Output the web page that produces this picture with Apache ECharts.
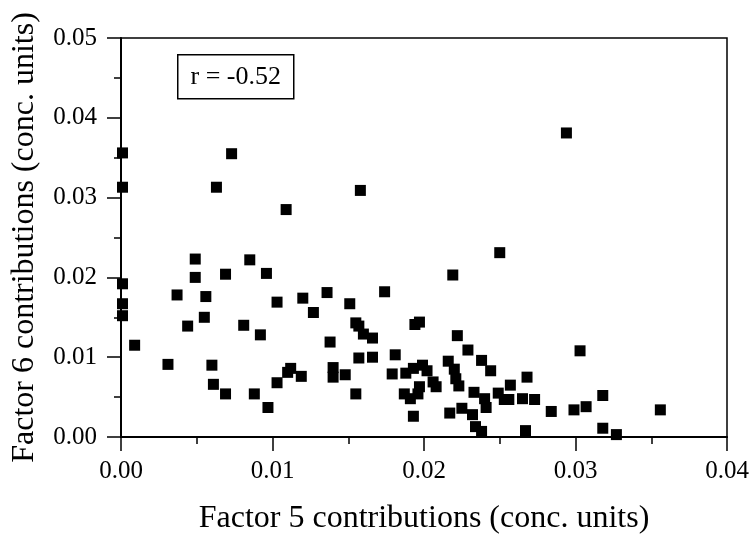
<!DOCTYPE html>
<html>
<head>
<meta charset="utf-8">
<script src="https://cdn.jsdelivr.net/npm/echarts@6/dist/echarts.min.js"></script>
<style>html,body{margin:0;padding:0;background:#fff;}#c{width:753px;height:534px;}</style>
</head>
<body>
<div id="c"></div>
<script>
const xTitle = 'Factor 5 contributions (conc. units)';
const yTitle = 'Factor 6 contributions (conc. units)';
const annotation = 'r = -0.52';
const xTicks = [0, 0.01, 0.02, 0.03, 0.04];
const yTicks = [0, 0.01, 0.02, 0.03, 0.04, 0.05];

const factor5 = [
  0.0001,0.0001,0.0001,0.0001,0.0001,
  0.0073,0.0063,0.0109,0.0049,0.0085,0.0049,0.0069,0.0096,
  0.0037,0.0056,0.0103,0.0055,0.0044,0.0081,0.0092,0.0009,0.0031,0.0060,0.0061,0.0069,0.0088,0.0097,0.0103,0.0110,0.0112,
  0.0158,0.0219,
  0.0120,0.0136,0.0174,0.0127,0.0151,0.0155,0.0157,0.0160,0.0166,0.0197,0.0194,0.0138,0.0157,0.0166,0.0181,0.0222,0.0229,
  0.0119,0.0140,0.0140,0.0148,0.0155,0.0179,0.0188,0.0193,0.0199,0.0202,0.0206,0.0208,0.0187,0.0191,0.0197,0.0196,
  0.0193,0.0216,0.0220,0.0221,0.0223,0.0233,0.0217,0.0225,0.0232,0.0234,
  0.0294,0.0250,
  0.0238,0.0244,0.0303,0.0268,0.0257,0.0249,0.0253,0.0256,0.0265,0.0273,0.0240,0.0241,0.0238,0.0267,0.0284,0.0299,0.0307,0.0318,0.0318,0.0327,0.0356
];
const factor6 = [
  0.0356,0.0313,0.0192,0.0167,0.0152,
  0.0355,0.0313,0.0285,0.0223,0.0222,0.0200,0.0204,0.0205,
  0.0178,0.0176,0.0169,0.0150,0.0139,0.0140,0.0128,0.0115,0.0091,0.0090,0.0066,0.0054,0.0054,0.0037,0.0068,0.0081,0.0086,
  0.0309,0.0203,
  0.0174,0.0181,0.0182,0.0156,0.0167,0.0143,0.0139,0.0129,0.0124,0.0144,0.0141,0.0119,0.0099,0.0100,0.0103,0.0127,0.0109,
  0.0076,0.0087,0.0075,0.0078,0.0054,0.0079,0.0080,0.0086,0.0090,0.0083,0.0069,0.0063,0.0054,0.0048,0.0063,0.0054,
  0.0026,0.0095,0.0085,0.0073,0.0064,0.0056,0.0030,0.0036,0.0028,0.0013,
  0.0381,0.0231,
  0.0096,0.0083,0.0108,0.0075,0.0065,0.0055,0.0047,0.0047,0.0048,0.0047,0.0048,0.0037,0.0007,0.0008,0.0032,0.0034,0.0038,0.0052,0.0011,0.0003,0.0034
];

const points = factor5.map((v, i) => [v, factor6[i]]);
const font = '"Liberation Serif", "Times New Roman", serif';

const chart = echarts.init(document.getElementById('c'), null, {renderer: 'canvas'});
chart.setOption({
  animation: false,
  backgroundColor: '#fff',
  grid: {left: 121, right: 26, top: 38, bottom: 97, containLabel: false, outerBoundsMode: 'none', show: true, borderColor: '#000', borderWidth: 1.5, backgroundColor: 'transparent'},
  xAxis: {
    type: 'value', min: xTicks[0], max: xTicks[xTicks.length - 1], interval: 0.01,
    name: xTitle, nameLocation: 'middle', nameGap: 66,
    nameTextStyle: {fontFamily: font, fontSize: 32, color: '#000'},
    axisLine: {show: true, lineStyle: {color: '#000', width: 2}},
    axisTick: {show: true, length: 14, lineStyle: {color: '#000', width: 1.5}},
    minorTick: {show: true, splitNumber: 2, length: 7, lineStyle: {color: '#000', width: 1.5}},
    splitLine: {show: false},
    axisLabel: {fontFamily: font, fontSize: 25, color: '#000', margin: 22, formatter: v => v.toFixed(2)}
  },
  yAxis: {
    type: 'value', min: yTicks[0], max: yTicks[yTicks.length - 1], interval: 0.01,
    name: yTitle, nameLocation: 'middle', nameGap: 80,
    nameTextStyle: {fontFamily: font, fontSize: 32, color: '#000'},
    axisLine: {show: true, lineStyle: {color: '#000', width: 2}},
    axisTick: {show: true, length: 14, lineStyle: {color: '#000', width: 1.5}},
    minorTick: {show: true, splitNumber: 2, length: 7, lineStyle: {color: '#000', width: 1.5}},
    splitLine: {show: false},
    axisLabel: {fontFamily: font, fontSize: 25, color: '#000', margin: 24, formatter: v => v.toFixed(2)}
  },
  series: [{
    type: 'scatter',
    data: points,
    symbol: 'rect',
    symbolSize: 11,
    itemStyle: {color: '#000', opacity: 1}
  }],
  graphic: [{
    type: 'group', left: 177, top: 54,
    children: [
      {type: 'rect', shape: {x: 0, y: 0, width: 116, height: 44}, style: {fill: '#fff', stroke: '#000', lineWidth: 1.5}},
      {type: 'text', x: 58, y: 22, style: {text: annotation, font: '26px ' + font, fill: '#000', align: 'center', verticalAlign: 'middle'}}
    ]
  }]
});
</script>
</body>
</html>
